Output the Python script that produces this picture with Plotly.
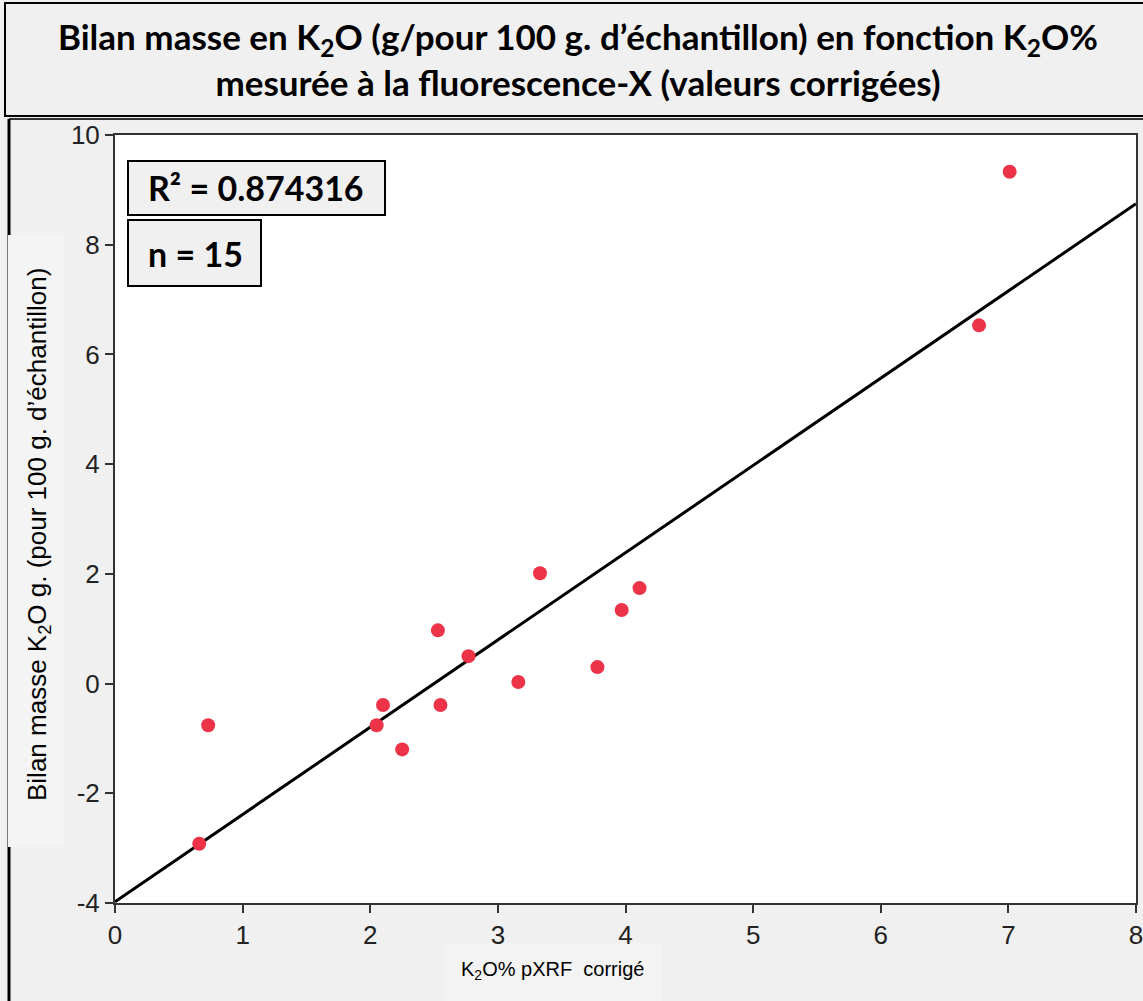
import numpy as np
import plotly.graph_objects as go

# Data
k2o_pxrf = [0.66, 0.73, 2.05, 2.10, 2.25, 2.53, 2.55, 2.77, 3.16, 3.33, 3.78, 3.97, 4.11, 6.77, 7.01]
bilan_k2o = [-2.92, -0.76, -0.76, -0.39, -1.20, 0.97, -0.39, 0.50, 0.03, 2.01, 0.30, 1.34, 1.74, 6.53, 9.33]
r2_text = "R² = 0.874316"
n_text = "n = 15"
x_ticks = [0, 1, 2, 3, 4, 5, 6, 7, 8]
y_ticks = [-4, -2, 0, 2, 4, 6, 8, 10]

slope, intercept = np.polyfit(k2o_pxrf, bilan_k2o, 1)
fit_x = [0, 8]
fit_y = [intercept + slope * v for v in fit_x]

W, H = 1143, 1001
L, R, T, B = 115, 1136, 135, 903


def px(x):
    return (x - L) / (R - L)


def py(y):
    return (B - y) / (B - T)


fig = go.Figure()
fig.add_trace(go.Scatter(x=fit_x, y=fit_y, mode="lines",
                         line=dict(color="black", width=3), hoverinfo="skip", showlegend=False))
fig.add_trace(go.Scatter(x=k2o_pxrf, y=bilan_k2o, mode="markers",
                         marker=dict(color="#ec3347", size=14, line=dict(width=0)), showlegend=False))

shapes = []
# title box
shapes.append(dict(type="rect", xref="paper", yref="paper", x0=px(5), x1=px(1150), y0=py(3), y1=py(116),
                   line=dict(color="black", width=2), fillcolor="#f0f0f0", layer="below"))
# outer plot frame
shapes.append(dict(type="line", xref="paper", yref="paper", x0=px(9), x1=px(1150), y0=py(119), y1=py(119),
                   line=dict(color="#333333", width=2), layer="below"))
shapes.append(dict(type="line", xref="paper", yref="paper", x0=px(9), x1=px(9), y0=py(119), y1=py(1010),
                   line=dict(color="black", width=3), layer="below"))
# y title panel
shapes.append(dict(type="rect", xref="paper", yref="paper", x0=px(8), x1=px(64), y0=py(235), y1=py(847),
                   line=dict(width=0), fillcolor="#f4f4f4", layer="below"))
# x title panel
shapes.append(dict(type="rect", xref="paper", yref="paper", x0=px(443), x1=px(662), y0=py(943), y1=py(1010),
                   line=dict(width=0), fillcolor="#f3f3f3", layer="below"))
# stat boxes
shapes.append(dict(type="rect", xref="paper", yref="paper", x0=px(128), x1=px(385), y0=py(161), y1=py(215),
                   line=dict(color="black", width=2), fillcolor="#f0f0f0", layer="above"))
shapes.append(dict(type="rect", xref="paper", yref="paper", x0=px(128), x1=px(261), y0=py(220), y1=py(286),
                   line=dict(color="black", width=2), fillcolor="#f0f0f0", layer="above"))

title_font = dict(family="Lato, 'Open Sans', sans-serif", size=35, color="black")
box_font = dict(family="Lato, 'Open Sans', sans-serif", size=34, color="black")
annotations = [
    dict(text="<b>Bilan masse en K<sub>2</sub>O (g/pour 100 g. d’échantillon) en fonction K<sub>2</sub>O%</b>"
              "<br><b>mesurée à la fluorescence-X (valeurs corrigées)</b>",
         x=px(578), y=py(59), xref="paper", yref="paper", showarrow=False, xanchor="center", yanchor="middle",
         align="center", font=title_font),
    dict(text="<b>" + r2_text + "</b>", x=px(256), y=py(188), xref="paper", yref="paper", showarrow=False,
         xanchor="center", yanchor="middle", font=box_font),
    dict(text="<b>" + n_text + "</b>", x=px(195), y=py(254), xref="paper", yref="paper", showarrow=False,
         xanchor="center", yanchor="middle", font=box_font),
    dict(text="Bilan masse K<sub>2</sub>O g. (pour 100 g. d’échantillon)", x=px(38), y=py(535),
         xref="paper", yref="paper", showarrow=False, textangle=-90, xanchor="center", yanchor="middle",
         font=dict(family="Liberation Sans, Arial, sans-serif", size=26, color="black")),
    dict(text="K<sub>2</sub>O% pXRF  corrigé", x=px(552), y=py(970),
         xref="paper", yref="paper", showarrow=False, xanchor="center", yanchor="middle",
         font=dict(family="Liberation Sans, Arial, sans-serif", size=20, color="black")),
]

tick_font = dict(family="Liberation Sans, Arial, sans-serif", size=26, color="#222222")
fig.update_layout(
    width=W, height=H,
    margin=dict(l=L, r=W - R, t=T, b=H - B, pad=0),
    paper_bgcolor="#f0f0f0", plot_bgcolor="white",
    shapes=shapes, annotations=annotations,
    xaxis=dict(range=[0, 8], tickvals=x_ticks, ticktext=[str(v) for v in x_ticks], automargin=False,
               ticklabeloverflow="allow",
               ticks="outside", ticklen=8, tickwidth=1.5, tickcolor="#333333",
               showline=True, linecolor="#333333", linewidth=2, mirror=True, showgrid=False, zeroline=False,
               tickfont=tick_font),
    yaxis=dict(range=[-4, 10], tickvals=y_ticks, ticktext=[str(v) for v in y_ticks], automargin=False,
               ticklabeloverflow="allow",
               ticks="outside", ticklen=8, tickwidth=1.5, tickcolor="#333333",
               showline=True, linecolor="#333333", linewidth=2, mirror=True, showgrid=False, zeroline=False,
               tickfont=tick_font),
)

fig.write_html("out.html")
